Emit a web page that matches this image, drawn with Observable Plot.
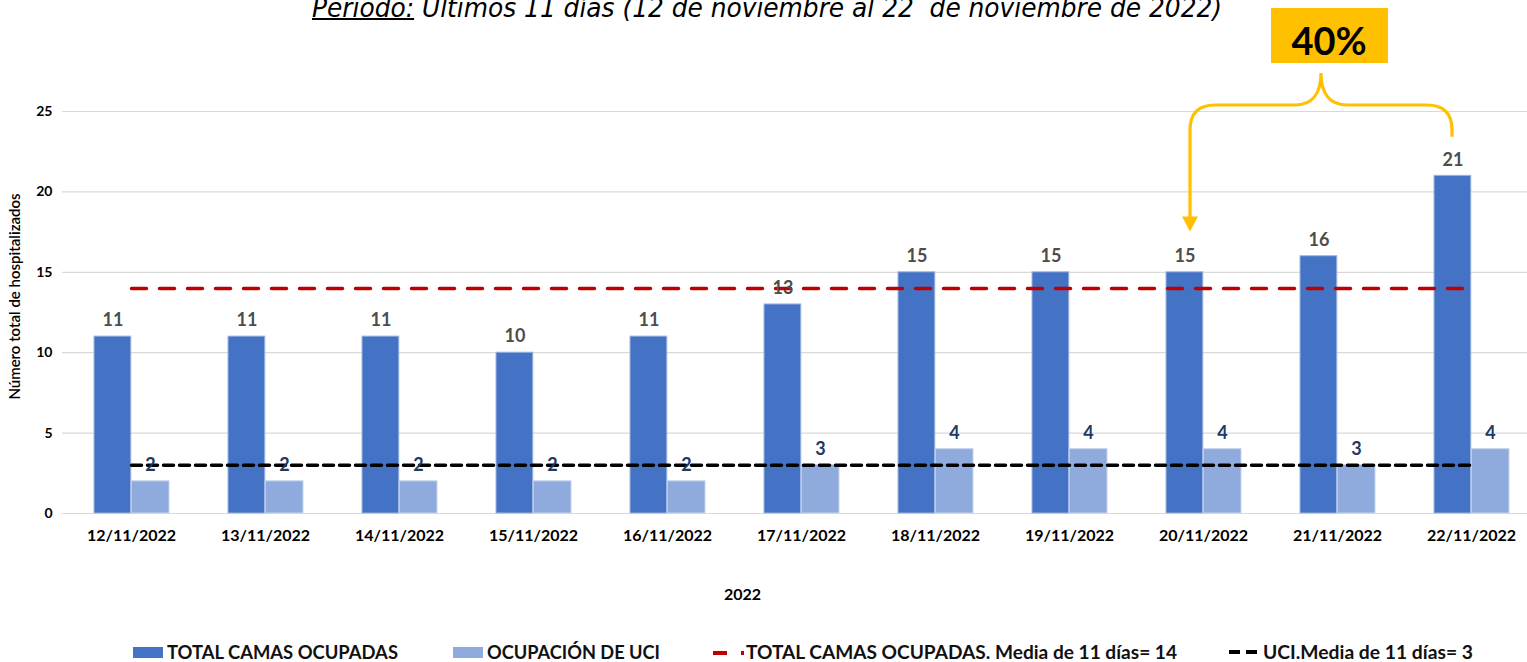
<!DOCTYPE html>
<html><head><meta charset="utf-8">
<script src="https://cdn.jsdelivr.net/npm/d3@7"></script>
<script src="https://cdn.jsdelivr.net/npm/@observablehq/plot@0.6"></script>
<style>
html,body{margin:0;padding:0;background:#fff;overflow:hidden;width:1527px;height:662px}
#wrap{position:relative;width:1527px;height:662px;font-family:Lato,"Open Sans",sans-serif;overflow:hidden}
#title{position:absolute;top:-6px;left:312px;white-space:pre;font-family:"Liberation Sans Narrow","DejaVu Sans Condensed","Liberation Sans",sans-serif;font-style:italic;font-size:27px;line-height:27px;color:#000;transform-origin:0 0;z-index:2}
#title u{text-decoration-thickness:2px}
#chart{position:absolute;top:0;left:0}
#chart svg{max-width:none !important;height:640px !important}
.lg{position:absolute;white-space:nowrap;font-weight:bold;color:#111;line-height:18px;top:643px;font-size:18px;transform-origin:0 50%}
.sw{position:absolute}
</style></head>
<body>
<div id="wrap">
  <div id="chart"></div>
  <div id="title"><u>Periodo:</u> Últimos 11 días (12 de noviembre al 22  de noviembre de 2022)</div>
  <div id="legend"></div>
</div>
<script>
// ---- data ----
const dates = ["12/11/2022","13/11/2022","14/11/2022","15/11/2022","16/11/2022","17/11/2022","18/11/2022","19/11/2022","20/11/2022","21/11/2022","22/11/2022"];
const totalCamas = [11,11,11,10,11,13,15,15,15,16,21];
const ocupacionUci = [2,2,2,2,2,3,4,4,4,3,4];
const mediaTotal = 14;
const mediaUci = 3;
const yTicks = [0,5,10,15,20,25];
const seriesNames = ["TOTAL CAMAS OCUPADAS","OCUPACIÓN DE UCI","TOTAL CAMAS OCUPADAS. Media de 11 días= 14","UCI.Media de 11 días= 3"];
const annotationText = "40%";

const rows = dates.map((d,i)=>({date:d,total:totalCamas[i],uci:ocupacionUci[i]}));

const W=1540, H=640, ML=62, MT=111, MB=127;
const darkBlue="#4472C4", lightBlue="#8FAADC", red="#C00000", gold="#FFC000";

const plot = Plot.plot({
  width: W, height: H, marginLeft: ML, marginRight: 0, marginTop: MT, marginBottom: MB,
  x: {type:"band", domain: dates, padding: 0},
  y: {domain:[0,25]},
  style: {fontFamily: "Lato, 'Open Sans', sans-serif", background:"white", overflow:"visible", color:"#000", maxWidth:"none"},
  marks: [
    Plot.ruleY(yTicks, {stroke:"#D9D9D9", strokeWidth:1.2}),
    Plot.axisY({ticks: yTicks, tickSize:0, tickPadding:10, fontSize:14, fontWeight:"bold", label:null}),
    Plot.axisX({tickSize:0, tickPadding:16, fontSize:16, fontWeight:"bold", label:null}),
    Plot.barY(rows, {x:"date", y:"total", fill:darkBlue, stroke:"#9db5e3", strokeWidth:1, insetLeft:30, insetRight:67.2}),
    Plot.barY(rows, {x:"date", y:"uci", fill:lightBlue, stroke:"#c5d4ef", strokeWidth:1, insetLeft:67.2, insetRight:29}),
    Plot.lineY(dates, {x:d=>d, y:()=>mediaTotal, stroke:red, strokeWidth:3.5, strokeDasharray:"15,13"}),
    Plot.lineY(dates, {x:d=>d, y:()=>mediaUci, stroke:"#000", strokeWidth:3.5, strokeDasharray:"10,6"}),
    Plot.text(rows, {x:"date", y:"total", text:d=>String(d.total), dx:-18.5, dy:-16, fill:"#4d4d4d", fontSize:18, fontWeight:"bold"}),
    Plot.text(rows, {x:"date", y:"uci", text:d=>String(d.uci), dx:19, dy:-16, fill:"#1F3864", fontSize:18, fontWeight:"bold"}),
    Plot.text(["Número total de hospitalizados"], {text:d=>d, frameAnchor:"left", textAnchor:"middle", lineAnchor:"middle", rotate:-90, dx:-47, dy:-16, fontSize:15, fontWeight:"600", fill:"#000"}),
    Plot.text(["2022"], {text:d=>d, frameAnchor:"bottom", textAnchor:"middle", lineAnchor:"middle", dx:-59, dy:81, fontSize:16, fontWeight:"bold", fill:"#000"})
  ]
});
document.getElementById("chart").appendChild(plot);

// ---- annotation (brace + arrow + 40% box), positioned from the scales ----
const xs = plot.scale("x"), ys = plot.scale("y");
const bw = xs.bandwidth;
const L = xs.apply("20/11/2022") + bw/2 - 13;
const R = xs.apply("22/11/2022") + bw/2 - 19;
const P = (L+R)/2;
const yTop = ys.apply(25);
const hY = yTop - 6, peakY = yTop - 38, r = 25;
const tipY = ys.apply(17.5), endR = ys.apply(23.4);
const svg = d3.select(plot);
const g = svg.append("g");
g.append("path")
  .attr("d", `M${L},${tipY-14} V${hY+r} Q${L},${hY} ${L+r},${hY} H${P-26} C${P-10},${hY} ${P},${hY-10} ${P},${peakY} C${P},${hY-10} ${P+10},${hY} ${P+26},${hY} H${R-r} Q${R},${hY} ${R},${hY+r} V${endR}`)
  .attr("fill","none").attr("stroke",gold).attr("stroke-width",3.2);
g.append("path")
  .attr("d", `M${L-8},${tipY-15} L${L+8},${tipY-15} L${L},${tipY} Z`)
  .attr("fill",gold);
g.append("rect").attr("x",P-50).attr("y",yTop-103).attr("width",117).attr("height",55).attr("fill",gold);
g.append("text").attr("x",P+8).attr("y",yTop-70).attr("dy","0.36em").attr("text-anchor","middle")
  .attr("font-family","Lato, sans-serif").attr("font-weight","bold").attr("font-size",38).attr("fill","#000")
  .text(annotationText);

// ---- title fit ----
const title = document.getElementById("title");
const tw = title.getBoundingClientRect().width;
title.style.transform = `scaleX(${910/tw})`;

// ---- legend ----
const legend = document.getElementById("legend");
function add(html){ const d=document.createElement("div"); d.innerHTML=html; const el=d.firstChild; legend.appendChild(el); return el; }
add(`<div class="sw" style="left:133px;top:647px;width:30px;height:11px;background:${darkBlue}"></div>`);
add(`<div class="sw" style="left:453px;top:647px;width:30px;height:11px;background:${lightBlue}"></div>`);
add(`<div class="sw" style="left:713px;top:651px;width:14px;height:3.5px;background:${red}"></div>`);
add(`<div class="sw" style="left:741px;top:651px;width:3px;height:3.5px;background:${red}"></div>`);
add(`<div class="sw" style="left:1229px;top:650px;width:11px;height:4px;background:#000"></div>`);
add(`<div class="sw" style="left:1246px;top:650px;width:11px;height:4px;background:#000"></div>`);
const lefts = [167, 487, 746, 1263];
const targets = [231, 173, 431, 210];
const texts = seriesNames.map((s,i)=>add(`<div class="lg" style="left:${lefts[i]}px">${s}</div>`));
const w0 = texts[0].getBoundingClientRect().width;
const fs = 18*231/w0;
texts.forEach((t,i)=>{ t.style.fontSize = fs+"px"; const w=t.getBoundingClientRect().width; t.style.transform=`scaleX(${targets[i]/w})`; });
</script>
</body></html>
